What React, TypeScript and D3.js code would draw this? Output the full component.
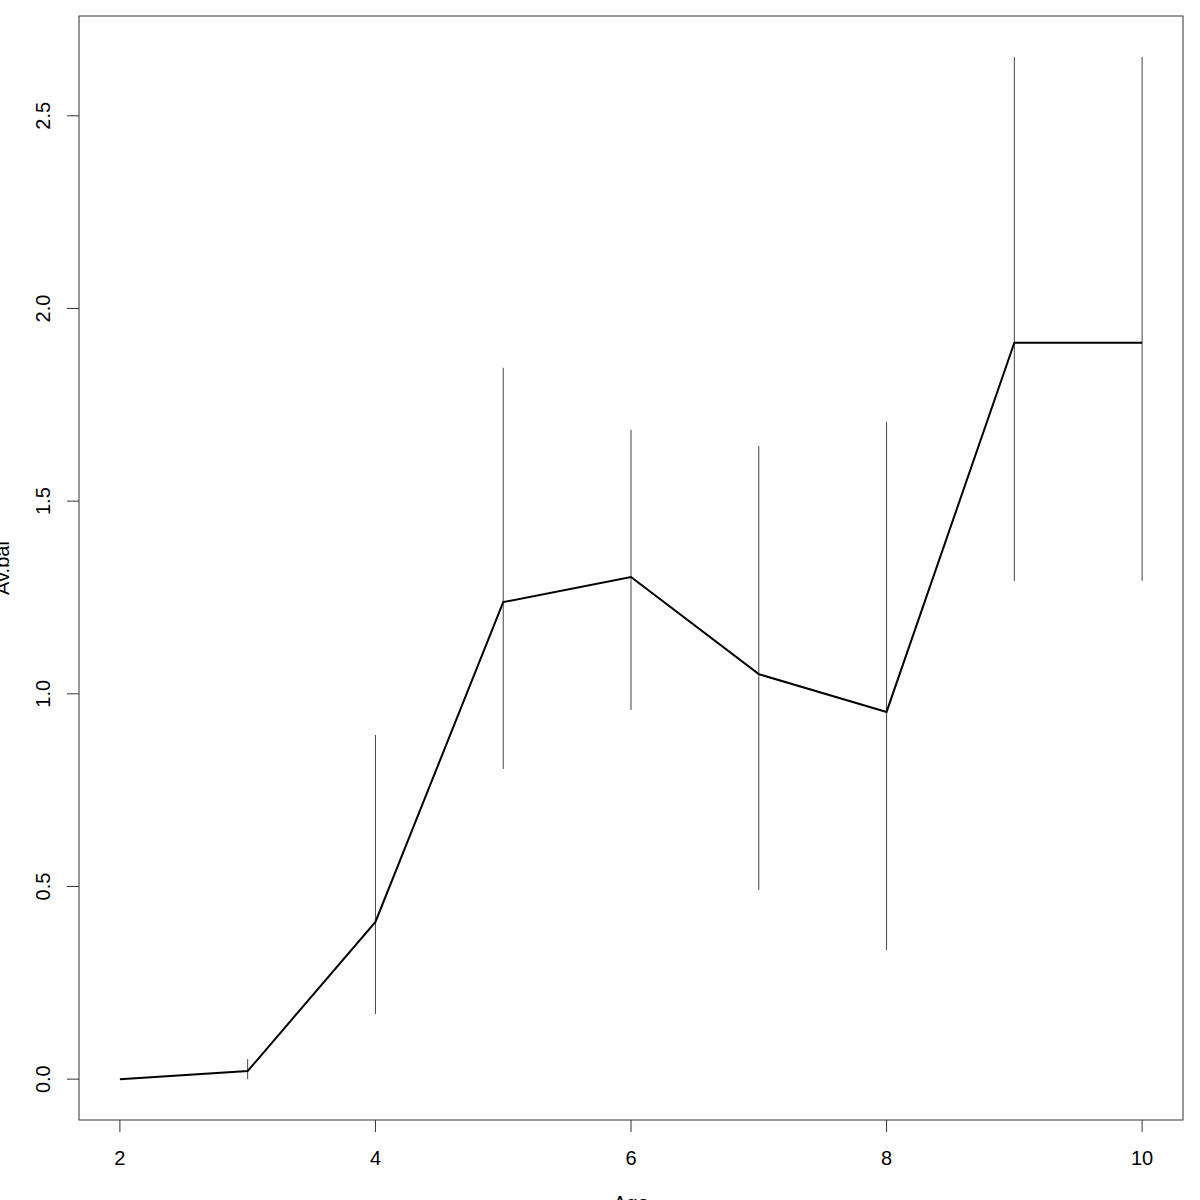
import React from "react";
import * as d3 from "d3";

const xs = [2, 3, 4, 5, 6, 7, 8, 9, 10];
const means = [0, 0.021, 0.408, 1.238, 1.303, 1.051, 0.953, 1.911, 1.911];
const upper = [null, 0.052, 0.893, 1.846, 1.685, 1.643, 1.706, 2.653, 2.653];
const lower = [null, 0.0, 0.169, 0.805, 0.958, 0.491, 0.335, 1.293, 1.293];
const xTicks = [2, 4, 6, 8, 10];
const yTicks = [0, 0.5, 1, 1.5, 2, 2.5];
const xLabel = "Age";
const yLabel = "Av.bal";

export default function App() {
  const W = 1200, H = 1200;
  const left = 79, right = 1183, top = 16, bottom = 1120;
  const x = d3.scaleLinear().domain([1.68, 10.32]).range([left, right]);
  const y = d3.scaleLinear().domain([-0.106, 2.759]).range([bottom, top]);
  const line = d3.line<number>().x((_, i) => x(xs[i])).y((d) => y(d));
  const font = "'Liberation Sans', Arial, sans-serif";
  const fs = 20;
  return (
    <svg width={W} height={H} style={{ position: "absolute", left: 0, top: 0, background: "#fff" }}>
      <rect x={left} y={top} width={right - left} height={bottom - top} fill="none" stroke="#333" strokeWidth={1} />
      {xs.map((xv, i) =>
        upper[i] == null ? null : (
          <line key={"e" + i} x1={x(xv)} x2={x(xv)} y1={y(upper[i] as number)} y2={y(lower[i] as number)} stroke="#444" strokeWidth={1} />
        )
      )}
      <path d={line(means) || ""} fill="none" stroke="#000" strokeWidth={2} />
      {xTicks.map((t) => (
        <g key={"x" + t}>
          <line x1={x(t)} x2={x(t)} y1={bottom} y2={bottom + 12} stroke="#333" />
          <text x={x(t)} y={bottom + 45} textAnchor="middle" fontFamily={font} fontSize={fs}>{t}</text>
        </g>
      ))}
      {yTicks.map((t) => (
        <g key={"y" + t}>
          <line x1={left - 12} x2={left} y1={y(t)} y2={y(t)} stroke="#333" />
          <text transform={`translate(${left - 29},${y(t)}) rotate(-90)`} textAnchor="middle" fontFamily={font} fontSize={fs}>{t.toFixed(1)}</text>
        </g>
      ))}
      <text x={(left + right) / 2} y={1210} textAnchor="middle" fontFamily={font} fontSize={fs}>{xLabel}</text>
      <text transform={`translate(${9},${(top + bottom) / 2}) rotate(-90)`} textAnchor="middle" fontFamily={font} fontSize={fs}>{yLabel}</text>
    </svg>
  );
}
